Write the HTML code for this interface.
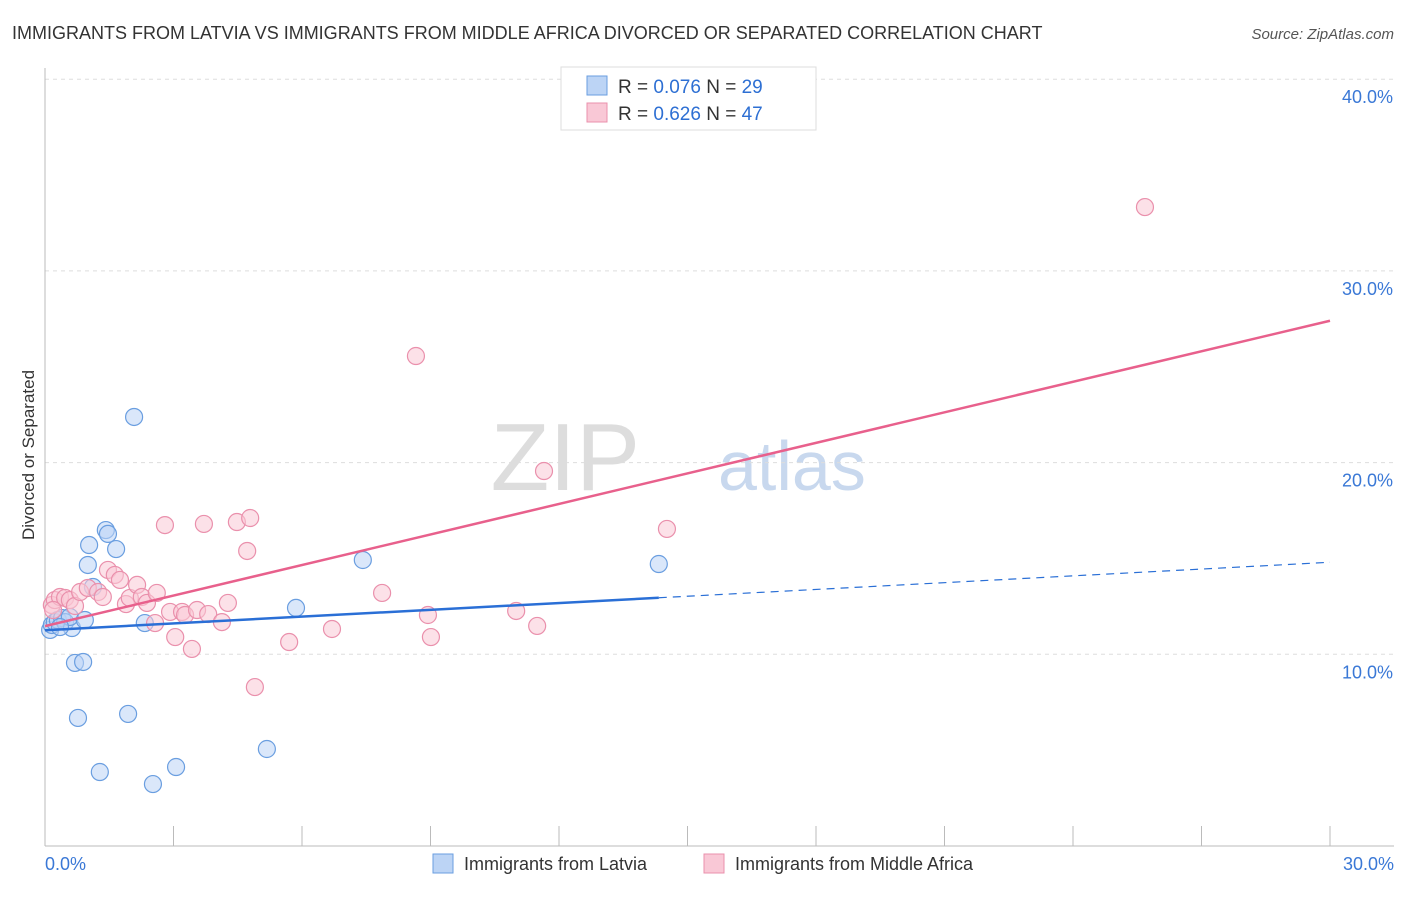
<!DOCTYPE html>
<html><head><meta charset="utf-8"><style>
body{margin:0;background:#fff;font-family:"Liberation Sans",sans-serif}
svg text{font-family:"Liberation Sans",sans-serif}
</style></head><body>
<svg id="c" width="1406" height="892">
<text x="12" y="39" font-size="18" fill="#333">IMMIGRANTS FROM LATVIA VS IMMIGRANTS FROM MIDDLE AFRICA DIVORCED OR SEPARATED CORRELATION CHART</text>
<text x="1394" y="39" font-size="15" fill="#555" text-anchor="end" font-style="italic">Source: ZipAtlas.com</text>
<text x="640" y="490" font-size="96" fill="#ddd" text-anchor="end" font-family="Liberation Serif">ZIP</text>
<text x="718" y="490" font-size="70" fill="#c8d8ee">atlas</text>
<text x="34" y="455" font-size="17" fill="#333" text-anchor="middle" transform="rotate(-90 34 455)">Divorced or Separated</text>
<g id="grid"></g><g id="marks"></g>
<g>
<rect x="561" y="67" width="255" height="63" fill="#fff" stroke="#ddd"/>
<rect x="587" y="76" width="20" height="19" fill="#bcd4f5" stroke="#6a9ee0"/>
<rect x="587" y="103" width="20" height="19" fill="#f9c8d6" stroke="#ea90ac"/>
<text x="618" y="93" font-size="19" fill="#333">R = <tspan fill="#2d6fd3">0.076</tspan>    N = <tspan fill="#2d6fd3">29</tspan></text>
<text x="618" y="120" font-size="19" fill="#333">R = <tspan fill="#2d6fd3">0.626</tspan>    N = <tspan fill="#2d6fd3">47</tspan></text>
</g>
<g>
<rect x="433" y="854" width="20" height="19" fill="#bcd4f5" stroke="#6a9ee0"/>
<text x="464" y="870" font-size="18" fill="#333">Immigrants from Latvia</text>
<rect x="704" y="854" width="20" height="19" fill="#f9c8d6" stroke="#ea90ac"/>
<text x="735" y="870" font-size="18" fill="#333">Immigrants from Middle Africa</text>
</g>
</svg>
<script>
const blueX=[0.12,0.16,0.23,0.30,0.40,0.47,0.63,0.58,0.93,0.70,0.89,0.77,1.28,1.94,2.52,3.06,5.18,2.08,1.42,1.47,1.66,1.03,1.00,1.12,2.33,5.86,7.42,14.33,0.35];
const blueY=[11.27,11.53,11.68,11.79,11.89,11.68,11.37,11.95,11.79,9.55,9.60,6.68,3.86,6.89,3.23,4.12,5.06,22.38,16.48,16.28,15.49,15.70,14.66,13.51,11.63,12.42,14.92,14.71,11.42];
const pinkX=[0.16,0.23,0.35,0.47,0.58,0.70,0.82,1.00,1.24,1.35,1.47,1.63,1.75,1.89,1.98,2.15,2.26,2.38,2.57,2.61,2.80,2.92,3.04,3.20,3.27,3.43,3.55,3.81,4.13,4.27,3.71,4.48,4.79,4.72,4.90,5.70,6.70,7.87,8.66,8.94,9.01,11.00,11.49,11.65,14.52,25.68,0.19];
const pinkY=[12.57,12.83,12.99,12.94,12.83,12.52,13.25,13.46,13.25,12.99,14.40,14.14,13.88,12.62,12.94,13.62,12.99,12.68,11.63,13.20,16.74,12.21,10.90,12.21,12.05,10.28,12.31,12.10,11.68,12.68,16.80,16.90,17.11,15.39,8.29,10.64,11.32,13.20,25.56,12.05,10.90,12.26,11.48,19.56,16.54,33.33,12.31];
const yTicks=[10,20,30,40];
const xTickLabels=["0.0%","30.0%"];
const NS="http://www.w3.org/2000/svg";
const X0=45,X1=1330,YB=846,PPY=19.17;
const sx=v=>X0+(X1-X0)*v/30, sy=v=>YB-v*PPY;
function mk(t,a,p){const e=document.createElementNS(NS,t);for(const k in a)e.setAttribute(k,a[k]);p.appendChild(e);return e;}
const g=document.getElementById('grid'),m=document.getElementById('marks');
yTicks.forEach(t=>{
 const l=mk('line',{x1:X0,x2:1394,y1:sy(t),y2:sy(t),stroke:'#ddd','stroke-dasharray':'4,4'},g);
 
 
 const tx=mk('text',{x:1393,y:sy(t)+24,'font-size':18,fill:'#3a78d6','text-anchor':'end'},g);
 tx.textContent=t.toFixed(1)+'%';
 
 
});
const ax=mk('line',{x1:X0,x2:X0,y1:68,y2:YB,stroke:'#bbb'},g);


const bx=mk('line',{x1:X0,x2:1394,y1:YB,y2:YB,stroke:'#bbb'},g);


for(let i=1;i<=10;i++){const t=mk('line',{x1:sx(i*3),x2:sx(i*3),y1:826,y2:YB,stroke:'#bbb'},g);
 
 }
[[0,'start',45],[30,'end',1394]].forEach((d,i)=>{const t=mk('text',{x:d[2],y:870,'font-size':18,fill:'#3a78d6','text-anchor':d[1]},g);
 t.textContent=xTickLabels[i];
 
 });
function reg(X,Y){const n=X.length;let mx=0,my=0;for(let i=0;i<n;i++){mx+=X[i];my+=Y[i];}mx/=n;my/=n;let sxy=0,sxx=0;for(let i=0;i<n;i++){sxy+=(X[i]-mx)*(Y[i]-my);sxx+=(X[i]-mx)**2;}const b=sxy/sxx;return [my-b*mx,b];}
function pts(X,Y,fill,stroke,name){X.forEach((x,i)=>{const c=mk('circle',{cx:sx(x),cy:sy(Y[i]),r:8.5,fill:fill,'fill-opacity':0.55,stroke:stroke,'stroke-width':1.2},m);
 
 });}
pts(blueX,blueY,'#bcd4f5','#6a9ee0','latvia-point');
pts(pinkX,pinkY,'#f9c8d6','#ea90ac','middle-africa-point');
const [ba,bb]=reg(blueX,blueY),[pa,pb]=reg(pinkX,pinkY);
const bmax=Math.max(...blueX);
let l=mk('line',{x1:sx(0),y1:sy(ba),x2:sx(bmax),y2:sy(ba+bb*bmax),stroke:'#2a6fd6','stroke-width':2.5},m);


l=mk('line',{x1:sx(bmax),y1:sy(ba+bb*bmax),x2:sx(30),y2:sy(ba+bb*30),stroke:'#2a6fd6','stroke-width':1.2,'stroke-dasharray':'8,6'},m);


l=mk('line',{x1:sx(0),y1:sy(pa),x2:sx(30),y2:sy(pa+pb*30),stroke:'#e8608c','stroke-width':2.5},m);


</script>
</body></html>
